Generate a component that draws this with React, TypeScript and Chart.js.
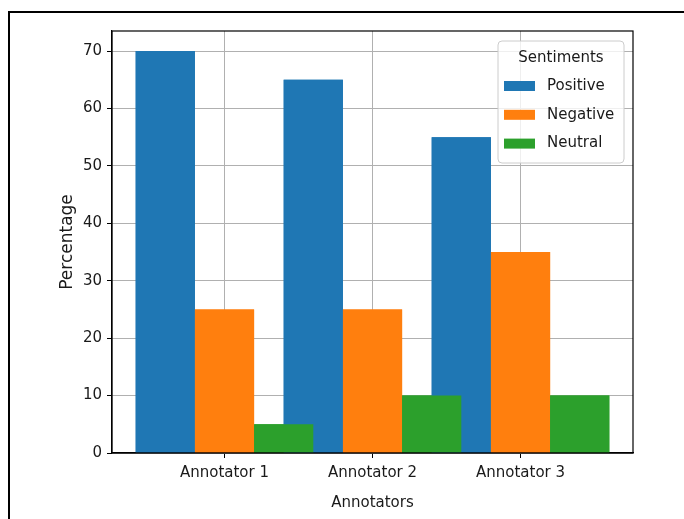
import React, { useEffect, useRef } from "react";
import { Chart, registerables } from "chart.js";

Chart.register(...registerables);

const annotators = ["Annotator 1", "Annotator 2", "Annotator 3"];
const positive = [70, 65, 55];
const negative = [25, 25, 35];
const neutral = [5, 10, 10];
const seriesNames = ["Positive", "Negative", "Neutral"];
const seriesColors = ["#1f77b4", "#ff7f0e", "#2ca02c"];
const yTicks = [0, 10, 20, 30, 40, 50, 60, 70];
const legendTitle = "Sentiments";
const xTitle = "Annotators";
const yTitle = "Percentage";

const FONT = "'DejaVu Sans', sans-serif";
const FS = 15;
const TEXT = "#1a1a1a";

const orderPlugin = {
  id: "drawInOrder",
  afterDatasetsDraw(chart: any) {
    const { ctx, chartArea } = chart;
    ctx.save();
    ctx.beginPath();
    ctx.rect(chartArea.left, chartArea.top, chartArea.right - chartArea.left, chartArea.bottom - chartArea.top);
    ctx.clip();
    chart.data.datasets.forEach((_: any, i: number) => {
      const meta = chart.getDatasetMeta(i);
      meta.data.forEach((el: any) => el.draw(ctx));
    });
    ctx.restore();
  },
};

const frameLegendPlugin = {
  id: "frameLegend",
  afterDraw(chart: any) {
    const { ctx, chartArea } = chart;
    ctx.save();
    ctx.strokeStyle = "#000";
    ctx.lineWidth = 1.2;
    ctx.strokeRect(chartArea.left, chartArea.top, chartArea.right - chartArea.left, chartArea.bottom - chartArea.top);
    const w = 126;
    const h = 122;
    const x0 = chartArea.right - 9 - w;
    const y0 = chartArea.top + 10;
    const r = 4;
    ctx.beginPath();
    ctx.moveTo(x0 + r, y0);
    ctx.lineTo(x0 + w - r, y0);
    ctx.quadraticCurveTo(x0 + w, y0, x0 + w, y0 + r);
    ctx.lineTo(x0 + w, y0 + h - r);
    ctx.quadraticCurveTo(x0 + w, y0 + h, x0 + w - r, y0 + h);
    ctx.lineTo(x0 + r, y0 + h);
    ctx.quadraticCurveTo(x0, y0 + h, x0, y0 + h - r);
    ctx.lineTo(x0, y0 + r);
    ctx.quadraticCurveTo(x0, y0, x0 + r, y0);
    ctx.closePath();
    ctx.fillStyle = "rgba(255,255,255,0.8)";
    ctx.fill();
    ctx.strokeStyle = "#cccccc";
    ctx.lineWidth = 1;
    ctx.stroke();
    ctx.font = `${FS}px ${FONT}`;
    ctx.fillStyle = TEXT;
    ctx.textBaseline = "middle";
    ctx.textAlign = "center";
    ctx.fillText(legendTitle, x0 + w / 2, y0 + 17);
    ctx.textAlign = "left";
    chart.data.datasets.forEach((ds: any, i: number) => {
      const cy = y0 + 45 + i * 28.8;
      ctx.fillStyle = ds.backgroundColor;
      ctx.fillRect(x0 + 6, cy - 5, 31, 10);
      ctx.fillStyle = TEXT;
      ctx.fillText(ds.label, x0 + 49, cy);
    });
    ctx.restore();
  },
};

export default function App() {
  const ref = useRef<HTMLCanvasElement>(null);
  useEffect(() => {
    const values = [positive, negative, neutral];
    const chart = new Chart(ref.current!, {
      type: "bar",
      data: {
        datasets: values.map((vals, s) => ({
          label: seriesNames[s],
          data: vals.map((v, i) => ({ x: i, y: v })),
          backgroundColor: seriesColors[s],
          borderWidth: 0,
          categoryPercentage: 1.2,
          barPercentage: 1,
        })),
      },
      options: {
        responsive: false,
        animation: false,
        layout: { padding: { left: 0, top: 31, right: 51, bottom: 0 } },
        plugins: { legend: { display: false }, tooltip: { enabled: false } },
        scales: {
          x: {
            type: "linear",
            min: -0.76,
            max: 2.76,
            offset: false,
            z: 1,
            afterBuildTicks: (scale: any) => {
              scale.ticks = annotators.map((_, i) => ({ value: i }));
            },
            afterFit: (scale: any) => {
              scale.height = 66;
            },
            ticks: {
              autoSkip: false,
              maxRotation: 0,
              padding: 6,
              color: TEXT,
              font: { family: FONT, size: FS },
              callback: (v: any) => annotators[v as number] ?? "",
            },
            grid: { color: "#b0b0b0", lineWidth: 1, tickColor: "#000", tickLength: 5, offset: false },
            border: { color: "#000", width: 1.2 },
            title: { display: true, text: xTitle, color: TEXT, font: { family: FONT, size: FS }, padding: { top: 0, bottom: 7 } },
          },
          y: {
            min: 0,
            max: 73.5,
            z: 1,
            afterBuildTicks: (scale: any) => {
              scale.ticks = yTicks.map((v) => ({ value: v }));
            },
            afterFit: (scale: any) => {
              scale.width = 112;
            },
            ticks: { padding: 5, color: TEXT, font: { family: FONT, size: FS } },
            grid: { color: "#b0b0b0", lineWidth: 1, tickColor: "#000", tickLength: 5 },
            border: { color: "#000", width: 1.2 },
            title: { display: true, text: yTitle, color: TEXT, font: { family: FONT, size: 17 }, padding: { top: 57, bottom: 0 } },
          },
        },
      },
      plugins: [orderPlugin, frameLegendPlugin],
    } as any);
    return () => chart.destroy();
  }, []);
  return (
    <div style={{ position: "fixed", left: 0, top: 0, width: 684, height: 519, background: "#fff" }}>
      <div
        style={{
          position: "absolute",
          left: 8,
          top: 11,
          right: 0,
          bottom: 0,
          borderLeft: "2px solid #000",
          borderTop: "2px solid #000",
        }}
      />
      <canvas ref={ref} width={684} height={519} style={{ position: "absolute", left: 0, top: 0 }} />
    </div>
  );
}
